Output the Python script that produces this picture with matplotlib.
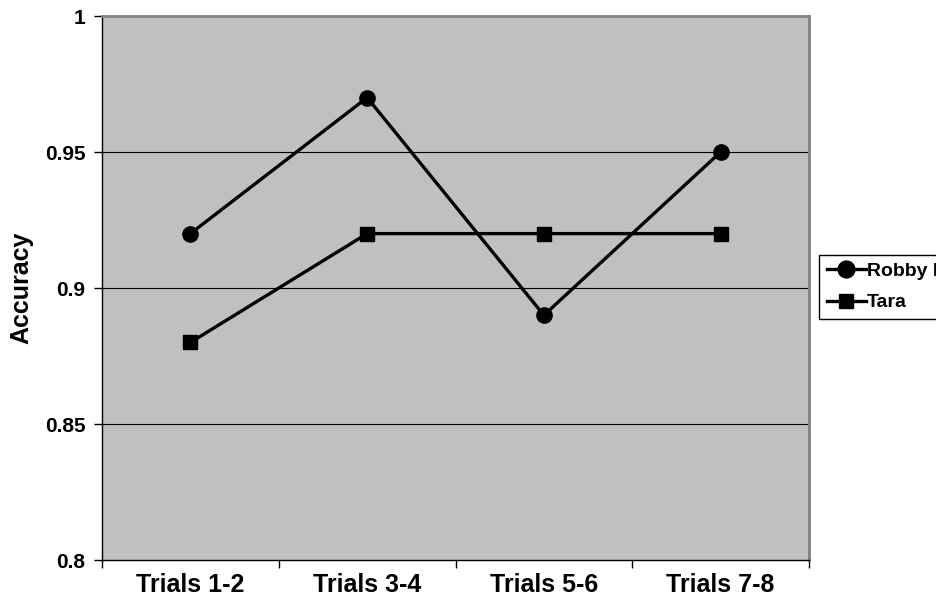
import matplotlib
matplotlib.use("Agg")
import matplotlib.pyplot as plt

plt.rcParams['font.family'] = ['Liberation Sans', 'DejaVu Sans']

categories = ["Trials 1-2", "Trials 3-4", "Trials 5-6", "Trials 7-8"]
robby = [0.92, 0.97, 0.89, 0.95]
tara = [0.88, 0.92, 0.92, 0.92]
yticks = [0.8, 0.85, 0.9, 0.95, 1.0]
ytick_labels = ["0.8", "0.85", "0.9", "0.95", "1"]

fig = plt.figure(figsize=(9.37, 6.16), dpi=100)
ax = fig.add_axes([0.1089, 0.0909, 0.7545, 0.8831])
ax.set_facecolor('#C0C0C0')

x = range(len(categories))
ax.plot(x, robby, color='black', lw=2.4, marker='o', ms=11, label='Robby II', zorder=3)
ax.plot(x, tara, color='black', lw=2.4, marker='s', ms=9.5, label='Tara', zorder=3)

ax.set_xlim(-0.5, len(categories) - 0.5)
ax.set_ylim(0.8, 1.0)
ax.set_yticks(yticks)
ax.set_yticklabels(ytick_labels, fontsize=15, fontweight='bold')
# category boundaries get the tick marks, labels sit between them
ax.set_xticks([i - 0.5 for i in range(len(categories) + 1)])
ax.set_xticklabels([])
ax.set_xticks(list(x), minor=True)
ax.set_xticklabels(categories, minor=True, fontsize=18, fontweight='bold')
ax.tick_params(axis='x', which='minor', length=0, pad=9.5)
ax.tick_params(axis='x', which='major', length=6, width=1, direction='out')
ax.tick_params(axis='y', length=6, width=1, direction='out', pad=6)

for v in yticks[1:-1]:
    ax.axhline(v, color='black', lw=0.8, zorder=1)

ax.spines['top'].set_color('#808080')
ax.spines['right'].set_color('#808080')
ax.spines['top'].set_linewidth(2)
ax.spines['right'].set_linewidth(2)
ax.spines['left'].set_linewidth(1)
ax.spines['bottom'].set_linewidth(1)

ax.set_ylabel("Accuracy", fontsize=18, fontweight='bold', labelpad=8)

# legend runs off the right edge of the figure, as in the original
leg = ax.legend(loc='upper left', bbox_to_anchor=(1.014, 0.561), frameon=True,
                fancybox=False, edgecolor='black', framealpha=1,
                prop={'weight': 'bold', 'size': 14}, handlelength=2.0,
                handletextpad=0.05, borderpad=0.4, labelspacing=0.7,
                borderaxespad=0, markerscale=1.1)
leg.get_frame().set_linewidth(1)

fig.savefig("out.png", dpi=100)
